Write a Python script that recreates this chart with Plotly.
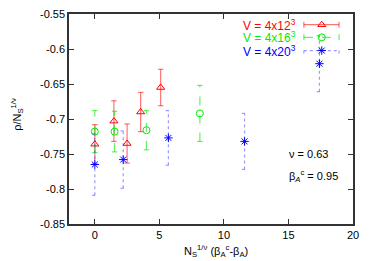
import plotly.graph_objects as go

# ---- data ----
x12 = [0.0, 1.48, 2.5, 3.55, 5.1]
y12 = [-0.736, -0.703, -0.735, -0.690, -0.655]
e12 = [0.028, 0.029, 0.028, 0.028, 0.026]

x16 = [0.0, 1.53, 4.0, 8.14]
y16 = [-0.718, -0.718, -0.716, -0.692]
e16 = [0.030, 0.029, 0.028, 0.040]

x20 = [0.0, 2.2, 5.7, 11.6, 17.4]
y20 = [-0.765, -0.758, -0.727, -0.732, -0.621]
e20 = [0.044, 0.041, 0.039, 0.040, 0.040]

labels = ["V = 4x12<sup>3</sup>", "V = 4x16<sup>3</sup>", "V = 4x20<sup>3</sup>"]
xticks = [0, 5, 10, 15, 20]
yticks = [-0.85, -0.8, -0.75, -0.7, -0.65, -0.6, -0.55]

FONT = "Liberation Sans, Arial, Helvetica, sans-serif"
CAP = 0.21


def err_segments(xs, ys, es, cap):
    sx, sy = [], []
    for x, y, e in zip(xs, ys, es):
        sx += [x, x, None, x - cap, x + cap, None, x - cap, x + cap, None]
        sy += [y - e, y + e, None, y - e, y - e, None, y + e, y + e, None]
    return sx, sy


series = [
    (x12, y12, e12, "#ff0000", "rgba(255,0,0,0.55)", "solid", "triangle-up-open", 7),
    (x16, y16, e16, "#00ee00", "rgba(0,230,0,0.6)", "dash", "circle-open", 7),
    (x20, y20, e20, "#0000ff", "rgba(60,60,255,0.5)", "dot", "asterisk-open", 7),
]

fig = go.Figure()
for xs, ys, es, mc, lc, dash, sym, sz in series:
    sx, sy = err_segments(xs, ys, es, CAP)
    fig.add_trace(go.Scatter(x=sx, y=sy, mode="lines",
                             line=dict(color=lc, width=1.2, dash=dash),
                             connectgaps=False,
                             showlegend=False, hoverinfo="skip"))
    fig.add_trace(go.Scatter(x=xs, y=ys, mode="markers",
                             marker=dict(symbol=sym, size=sz, color=mc,
                                         line=dict(color=mc, width=1)),
                             showlegend=False))

# ---- legend (gnuplot style) on hidden overlay axes ----
leg_y = [0.949, 0.889, 0.826]
lx0, lx1, lxc = 0.827, 0.951, 0.890
for (xs, ys, es, mc, lc, dash, sym, sz), ly, lab in zip(series, leg_y, labels):
    fig.add_trace(go.Scatter(
        x=[lx0, lx1, None, lx0, lx0, None, lx1, lx1],
        y=[ly, ly, None, ly - 0.014, ly + 0.014, None, ly - 0.014, ly + 0.014],
        mode="lines", line=dict(color=lc, width=1.2, dash=dash),
        connectgaps=False,
        xaxis="x2", yaxis="y2", showlegend=False, hoverinfo="skip"))
    fig.add_trace(go.Scatter(x=[lxc], y=[ly], mode="markers",
                             marker=dict(symbol=sym, size=sz, color=mc,
                                         line=dict(color=mc, width=1)),
                             xaxis="x2", yaxis="y2", showlegend=False))
    fig.add_annotation(x=0.805, y=ly, xref="paper", yref="paper", text=lab,
                       showarrow=False, xanchor="right", yanchor="middle",
                       font=dict(family=FONT, size=12, color=mc))

fig.add_annotation(x=0.767, y=0.335, xref="paper", yref="paper", text="ν = 0.63",
                   showarrow=False, xanchor="left", yanchor="middle",
                   font=dict(family=FONT, size=11, color="black"))
fig.add_annotation(x=0.767, y=0.23, xref="paper", yref="paper",
                   text="β<sub><i>A</i></sub><sup>c</sup> = 0.95",
                   showarrow=False, xanchor="left", yanchor="middle",
                   font=dict(family=FONT, size=11, color="black"))

# axis titles as annotations for exact placement
fig.add_annotation(x=0.518, y=-0.128, xref="paper", yref="paper",
                   text="N<sub>S</sub><sup>1/ν</sup> (β<sub>A</sub><sup>c</sup>-β<sub>A</sub>)",
                   showarrow=False, xanchor="center", yanchor="middle",
                   font=dict(family=FONT, size=11, color="black"))
fig.add_annotation(x=-0.183, y=0.52, xref="paper", yref="paper",
                   text="ρ/N<sub>S</sub><sup>1/ν</sup>", textangle=-90,
                   showarrow=False, xanchor="center", yanchor="middle",
                   font=dict(family=FONT, size=11, color="black"))

axis_common = dict(showgrid=False, zeroline=False, showline=True, mirror="ticks",
                   linecolor="#333", linewidth=1.5, ticks="inside", ticklen=5,
                   tickcolor="#333", tickwidth=1, automargin=False,
                   tickfont=dict(family=FONT, size=11, color="black"))

fig.update_layout(
    width=374, height=261, autosize=False,
    margin=dict(l=69, r=21, t=14, b=37),
    paper_bgcolor="white", plot_bgcolor="white",
    font=dict(family=FONT, size=11, color="black"),
    xaxis=dict(range=[-2, 20], tickvals=xticks, ticktext=[str(t) for t in xticks],
               domain=[0, 1], anchor="y", **axis_common),
    yaxis=dict(range=[-0.85, -0.55], tickvals=yticks,
               ticktext=[f"{t:g}" for t in yticks], domain=[0, 1], anchor="x",
               **axis_common),
    xaxis2=dict(range=[0, 1], overlaying="x", anchor="y2", visible=False,
                fixedrange=True),
    yaxis2=dict(range=[0, 1], overlaying="y", anchor="x2", visible=False,
                fixedrange=True),
    showlegend=False,
)

fig.write_html("out.html", config={"displayModeBar": False},
               post_script="document.body.style.margin='0';document.body.style.overflow='hidden';")
